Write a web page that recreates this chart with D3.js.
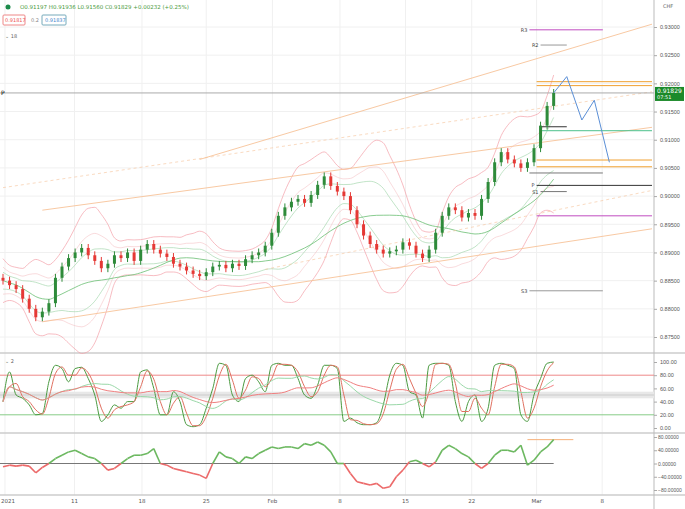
<!DOCTYPE html><html><head><meta charset="utf-8"><script src="https://cdn.jsdelivr.net/npm/d3@7"></script>
<style>body{margin:0;background:#fff}svg{font-family:"DejaVu Sans",sans-serif}</style></head><body><svg id="c" width="685" height="509"></svg>
<script>
const closes=[.8850,.8842,.8835,.8818,.8800,.8785,.8795,.8810,.8855,.8875,.8890,.8900,.8908,.8895,.8885,.8872,.8880,.8895,.8890,.8900,.8885,.8905,.8915,.8905,.8898,.8892,.8880,.8875,.8868,.8862,.8858,.8865,.8875,.8878,.8872,.8880,.8876,.8888,.8895,.8900,.8912,.8935,.8965,.8980,.8990,.8995,.8988,.9002,.9020,.9035,.9018,.9008,.9000,.8975,.8950,.8930,.8915,.8905,.8898,.8902,.8905,.8918,.8912,.8898,.8890,.8905,.8935,.8965,.8980,.8975,.8962,.8970,.8965,.8995,.9025,.9060,.9078,.9065,.9058,.9050,.9060,.9085,.9125,.9160,.9183];
const stochK=[40,85,50,45,35,20,22,70,95,90,70,90,92,75,50,10,20,35,30,40,40,85,88,60,20,20,55,40,5,2,5,30,60,98,95,50,40,75,80,70,55,95,98,95,95,75,50,45,65,95,95,90,10,15,8,5,5,8,35,80,98,95,55,50,15,95,98,98,95,40,10,40,50,10,30,95,98,95,90,20,10,50,75,98,100];
const mom=[-10,-5,-8,-5,-8,-28,-12,0,15,25,35,40,30,20,15,0,-20,-15,0,15,25,25,30,45,0,-5,-15,-20,-25,-30,-35,-45,0,35,20,15,0,20,15,30,40,50,45,50,50,45,60,55,65,55,35,0,0,-30,-55,-60,-65,-60,-75,-70,-40,-20,5,10,0,-10,5,40,55,45,30,20,0,-15,0,25,40,40,35,55,-5,10,35,50,72];
const priceTicks=[0.875,0.88,0.885,0.89,0.895,0.9,0.905,0.91,0.915,0.92,0.925,0.93];
const dateTickIdx=[0.3,10.9,21.2,31,41.1,51.4,61.4,71.5,81.4,91.4];
const dateLabels=["2021","11","18","25","Feb","8","15","22","Mar","8"];
const channels=[[[6,0.8777],[99,0.8942]],[[6,0.8975],[99,0.9122]],[[30,0.9065],[99,0.9305]],[[0,0.9015],[99,0.9185]],[[40,0.887],[99,0.901]]];
const pivots=[["R3",0.9295,80.3,91.5,"#c04cc0"],["R2",0.9268,82,86,"#999"],["",0.9203,81.4,99,"#f0a030"],["",0.9196,81.4,99,"#f0a030"],["",0.9123,82,86,"#333"],["",0.9116,82,99,"#4cc08c"],["",0.9064,81.4,99,"#f0a030"],["",0.9052,81.4,99,"#f0a030"],["",0.9041,80.3,91.5,"#777"],["P",0.9019,81.4,99,"#333"],["S1",0.9008,82,86,"#777"],["",0.8965,81.4,99,"#c04cc0"],["S3",0.8832,80.3,91.5,"#999"]];
const proj=[[84,0.9183],[86,0.9212],[88.3,0.9135],[90.2,0.917],[92.5,0.906]];

const svg=d3.select("#c");
const x=d3.scaleLinear().domain([0,99]).range([3,652]);
const y=d3.scaleLinear().domain([0.875,0.93]).range([337,27]);
const ys=d3.scaleLinear().domain([0,100]).range([428,362]);
const ym=d3.scaleLinear().domain([-80,80]).range([490,437]);
dateTickIdx.forEach(i=>svg.append("line").attr("x1",x(i)).attr("x2",x(i)).attr("y1",0).attr("y2",495).attr("stroke","#f0f0f0"));
priceTicks.forEach(p=>svg.append("line").attr("x1",0).attr("x2",653).attr("y1",y(p)).attr("y2",y(p)).attr("stroke","#f0f0f0"));
[353,433,495].forEach(v=>svg.append("line").attr("x1",0).attr("x2",685).attr("y1",v).attr("y2",v).attr("stroke","#ccc").attr("stroke-width",1.5));
svg.append("line").attr("x1",654).attr("x2",654).attr("y1",0).attr("y2",509).attr("stroke","#bbb");
const sty=g=>{g.select(".domain").remove();g.selectAll("line").attr("stroke","#aaa");g.selectAll("text").attr("font-size",5.5).attr("fill","#555")};
svg.append("g").attr("transform","translate(654,0)").call(d3.axisRight(y).tickValues(priceTicks).tickFormat(d3.format(".5f")).tickSize(3)).call(sty);
svg.append("g").attr("transform","translate(654,0)").call(d3.axisRight(ys).tickValues([0,20,40,60,80,100]).tickFormat(d3.format(".2f")).tickSize(3)).call(sty);
svg.append("g").attr("transform","translate(654,0)").call(d3.axisRight(ym).tickValues([-80,-40,0,40,80]).tickFormat(d3.format(".5f")).tickSize(3)).call(g=>{sty(g);g.selectAll("text").attr("font-size",5).attr("x",4);});
dateLabels.forEach((l,k)=>svg.append("text").attr("x",k?x(dateTickIdx[k]):1).attr("y",503).attr("text-anchor",k?"middle":"start").attr("font-size",5.5).attr("fill","#555").text(l));
function roll(arr,n,f){return arr.map((_,i)=>{const s=arr.slice(Math.max(0,i-n+1),i+1);return f(s);});}
const ma=roll(closes,10,d3.mean), sd=roll(closes,10,s=>d3.deviation(s)||0.0015);
const ma2=roll(closes,20,d3.mean);
const ln=(f,sc)=>d3.line().x((d,i)=>x(i)).y((d,i)=>sc(f(d,i))).curve(d3.curveMonotoneX);
const bands=[[2.6,"#f4a0a8",0.7],[-2.6,"#f4a0a8",0.7],[1.6,"#f4b8bc",0.5],[-1.6,"#f4b8bc",0.5],[1,"#a8d8b0",0.7],[-1,"#a8d8b0",0.7]];
bands.forEach(([k,c,o])=>svg.append("path").datum(closes).attr("d",ln((d,i)=>ma[i]+k*Math.max(sd[i],0.0012),y)).attr("fill","none").attr("stroke",c).attr("opacity",o));
svg.append("path").datum(closes).attr("d",ln((d,i)=>ma2[i],y)).attr("fill","none").attr("stroke","#6cbf74").attr("opacity",0.8);
channels.forEach((c,k)=>svg.append("line").attr("x1",x(c[0][0])).attr("y1",y(c[0][1])).attr("x2",x(c[1][0])).attr("y2",y(c[1][1])).attr("stroke","#f8c49a").attr("opacity",k>2?0.6:0.9).attr("stroke-dasharray",k>2?"3,3":null));
svg.append("line").attr("x1",0).attr("x2",654).attr("y1",y(0.9183)).attr("y2",y(0.9183)).attr("stroke","#aaa");
svg.append("text").attr("x",1).attr("y",y(0.9183)+2).attr("font-size",6).text("P");
pivots.forEach(([t,p,a,b,c])=>{svg.append("line").attr("x1",x(a)).attr("x2",x(b)).attr("y1",y(p)).attr("y2",y(p)).attr("stroke",c);if(t)svg.append("text").attr("x",x(a)-2).attr("y",y(p)+2).attr("text-anchor","end").attr("font-size",5).attr("fill","#444").text(t);});
const w=3;
closes.forEach((c,i)=>{const o=i?closes[i-1]:c+0.0005;const up=c>=o;const col=up?"#2e8b3a":"#e53935";
 svg.append("line").attr("x1",x(i)).attr("x2",x(i)).attr("y1",y(Math.max(o,c)+0.0007)).attr("y2",y(Math.min(o,c)-0.0007)).attr("stroke",col);
 svg.append("rect").attr("x",x(i)-w/2).attr("width",w).attr("y",y(Math.max(o,c))).attr("height",Math.max(1,y(Math.min(o,c))-y(Math.max(o,c)))).attr("fill",col);});
svg.append("path").datum(proj).attr("d",d3.line().x(d=>x(d[0])).y(d=>y(d[1]))).attr("fill","none").attr("stroke","#5b8fd6");
svg.append("rect").attr("x",655).attr("y",y(0.9183)-6).attr("width",29).attr("height",14).attr("fill","#1b8a2a");
svg.append("text").attr("x",657).attr("y",y(0.9183)).attr("font-size",6).attr("fill","#fff").text("0.91829");
svg.append("text").attr("x",657).attr("y",y(0.9183)+6).attr("font-size",5).attr("fill","#fff").text("07:51");
svg.append("rect").attr("x",0).attr("width",654).attr("y",ys(55)).attr("height",ys(45)-ys(55)).attr("fill","#e8e8e8");
[[80,"#e88"],[20,"#8c8"],[50,"#ccc"]].forEach(([v,c])=>svg.append("line").attr("x1",0).attr("x2",654).attr("y1",ys(v)).attr("y2",ys(v)).attr("stroke",c));
const kd=roll(stochK,2,d3.mean), slow=roll(stochK,10,d3.mean), slow2=roll(stochK,20,d3.mean);
[[stochK,"#4a9a40"],[kd,"#e07060"],[slow,"#9ad8a8"],[slow2,"#f08080"]].forEach(([a,c])=>svg.append("path").datum(a).attr("d",ln(d=>d,ys)).attr("fill","none").attr("stroke",c));
svg.append("line").attr("x1",0).attr("x2",x(84)).attr("y1",ym(0)).attr("y2",ym(0)).attr("stroke","#777");
svg.append("line").attr("x1",x(80)).attr("x2",x(87)).attr("y1",ym(72)).attr("y2",ym(72)).attr("stroke","#f6b07a");
for(let i=1;i<mom.length;i++){svg.append("line").attr("x1",x(i-1)).attr("x2",x(i)).attr("y1",ym(mom[i-1])).attr("y2",ym(mom[i])).attr("stroke",(mom[i]+mom[i-1])>=0?"#6cb860":"#ec6a6a").attr("stroke-width",1.6);}
svg.append("circle").attr("cx",8).attr("cy",7).attr("r",2.5).attr("fill","#1b8a4a");
svg.append("text").attr("x",20).attr("y",9).attr("font-size",5.5).attr("fill","#4a9a40").text("O0.91197 H0.91936 L0.91560 C0.91829 +0.00232 (+0.25%)");
svg.append("rect").attr("x",3).attr("y",15).attr("width",22).attr("height",10).attr("fill","#fff").attr("stroke","#e88").attr("rx",1);
svg.append("text").attr("x",5).attr("y",22).attr("font-size",5).attr("fill","#e55").text("0.91817");
svg.append("text").attr("x",31).attr("y",22).attr("font-size",5).attr("fill","#888").text("0.2");
svg.append("rect").attr("x",42).attr("y",15).attr("width",24).attr("height",10).attr("fill","#fff").attr("stroke","#7ab").attr("rx",1);
svg.append("text").attr("x",45).attr("y",22).attr("font-size",5).attr("fill","#48c").text("0.91837");
svg.append("text").attr("x",5).attr("y",38).attr("font-size",5).attr("fill","#666").text("⌄ 18");
svg.append("text").attr("x",5).attr("y",363).attr("font-size",5).attr("fill","#666").text("⌄ 2");
svg.append("text").attr("x",663).attr("y",8).attr("font-size",5).attr("fill","#666").text("CHF");
</script></body></html>
